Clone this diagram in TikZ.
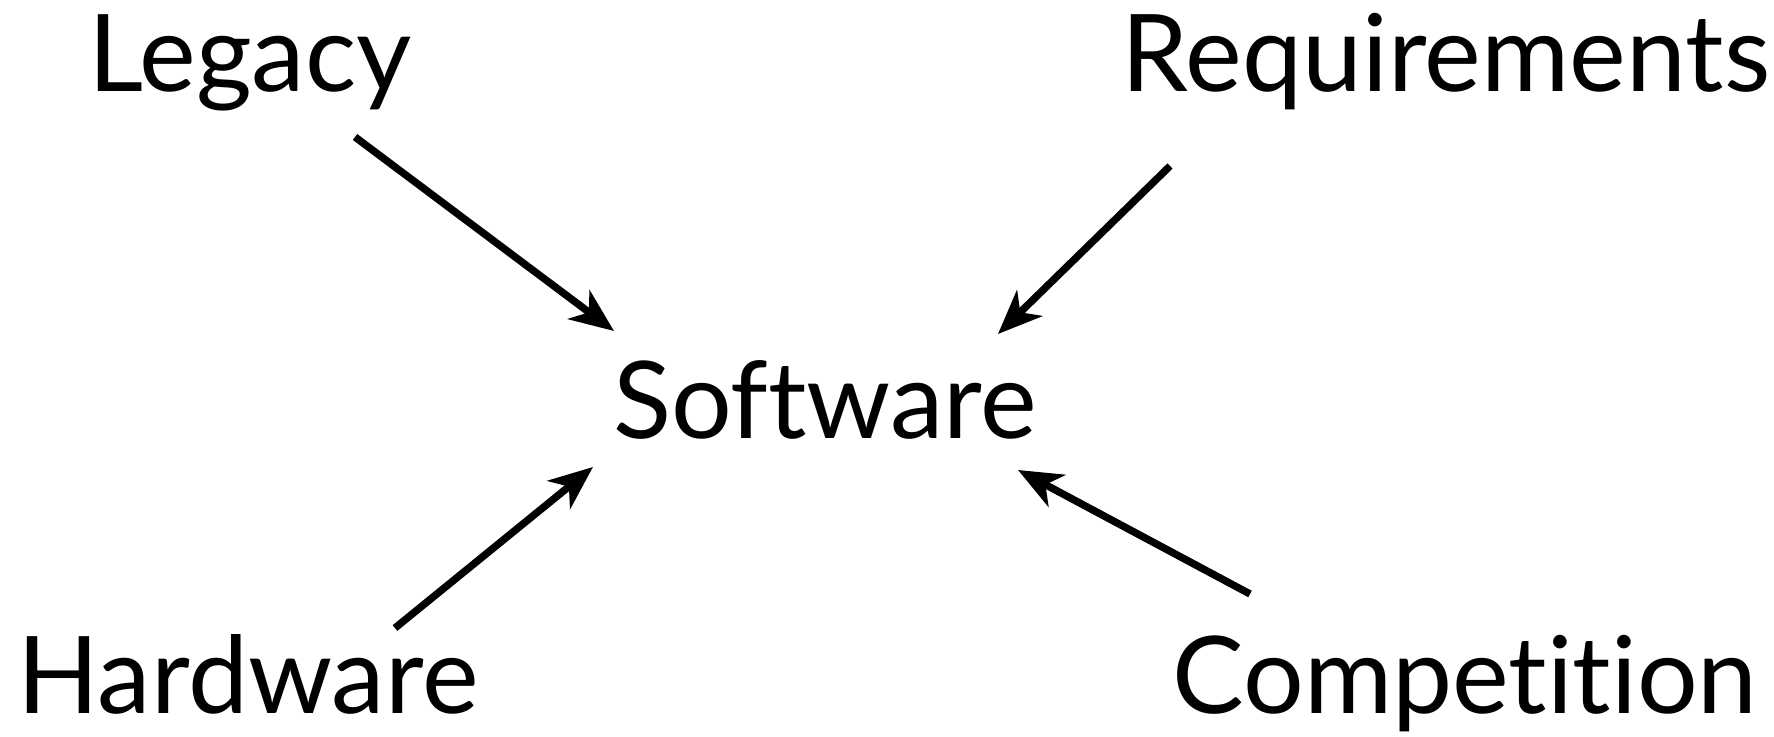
\documentclass[tikz,border=0pt]{standalone}
\usepackage{fontspec}
\setmainfont{Lato}[Ligatures=NoCommon]
\usetikzlibrary{arrows.meta}

\begin{document}
\begin{tikzpicture}[x=0.01cm, y=-0.01cm, >={Stealth[length=4.4mm, width=3.6mm, inset=1.3mm]}]
  \tikzset{
    word/.style={font=\fontsize{30.5}{36}\selectfont, inner sep=0pt, anchor=base},
    feed/.style={->, line width=2.1pt}
  }
  \useasboundingbox (0,0) rectangle (1774,737);

  % === Labels ===
  \node[word] (legacy)       at (250,92)   {Legacy};
  \node[word] (requirements) at (1446,92)  {Requirements};
  \node[word] (software)     at (825,438)  {Software};
  \node[word] (hardware)     at (248,713)  {Hardware};
  \node[word] (competition)  at (1465,713) {Competition};

  % Arrow ends
  \coordinate (legacy-out)       at (355,137);
  \coordinate (legacy-in)        at (614,331);
  \coordinate (requirements-out) at (1170,166);
  \coordinate (requirements-in)  at (998,334);
  \coordinate (hardware-out)     at (395,628);
  \coordinate (hardware-in)      at (593,467);
  \coordinate (competition-out)  at (1250,594);
  \coordinate (competition-in)   at (1018,470);

  % === Arrows into Software ===
  \draw[feed] (legacy-out) -- (legacy-in);
  \draw[feed] (requirements-out) -- (requirements-in);
  \draw[feed] (hardware-out) -- (hardware-in);
  \draw[feed] (competition-out) -- (competition-in);

\end{tikzpicture}
\end{document}
